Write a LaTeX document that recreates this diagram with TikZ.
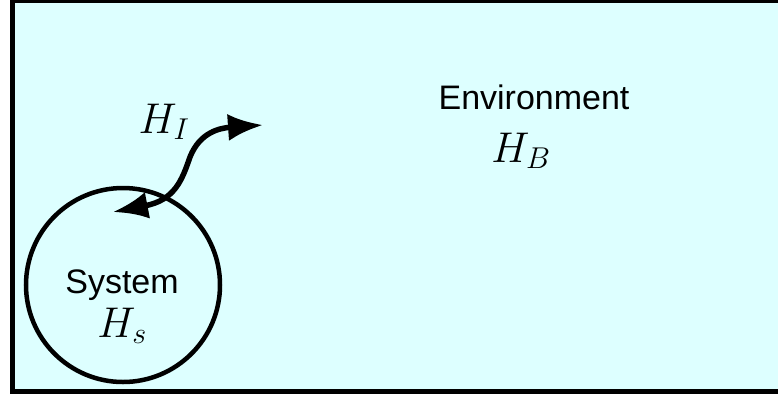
\RequirePackage{fix-cm}
\documentclass[tikz,border=0pt]{standalone}
\usepackage{fontspec}
\setsansfont{Liberation Sans}
\usetikzlibrary{arrows.meta, positioning}

\definecolor{envfill}{RGB}{221,255,255}

\tikzset{
    label text/.style={font=\sffamily\fontsize{34}{38}\selectfont, inner sep=0pt, anchor=base},
    ham text/.style={font=\fontsize{43}{46}\selectfont, inner sep=0pt, anchor=base},
    coupling/.style={line width=5.5pt, {Latex[length=35pt,width=27pt]}-{Latex[length=35pt,width=27pt]}}
}

\begin{document}
\begin{tikzpicture}[x=1pt, y=-1pt]
    \useasboundingbox (0,0) rectangle (778,397);
    \clip (0,0) rectangle (778,397);

    % environment box (runs off to the right)
    \draw[line width=5pt, fill=envfill] (12.5,0.5) rectangle (900,391.5);

    % system
    \node[circle, draw, line width=4.5pt, minimum size=194pt, inner sep=0pt] (sys) at (123,285) {};
    \node[label text] (systxt) at (122,293) {System};
    \node[ham text] (hs) at (122,337) {$H_s$};

    % environment
    \node[label text] (envtxt) at (534,109) {Environment};
    \node[ham text] (hb) at (521,162) {$H_B$};

    % interaction
    \node[ham text] (hi) at (164,133) {$H_I$};
    \coordinate (sysend) at (113,212);
    \coordinate (envend) at (263,125);
    \draw[coupling] (sysend) .. controls (175,200) and (182,180) .. (190,157)
        .. controls (200,132) and (220,128) .. (envend);
\end{tikzpicture}
\end{document}
